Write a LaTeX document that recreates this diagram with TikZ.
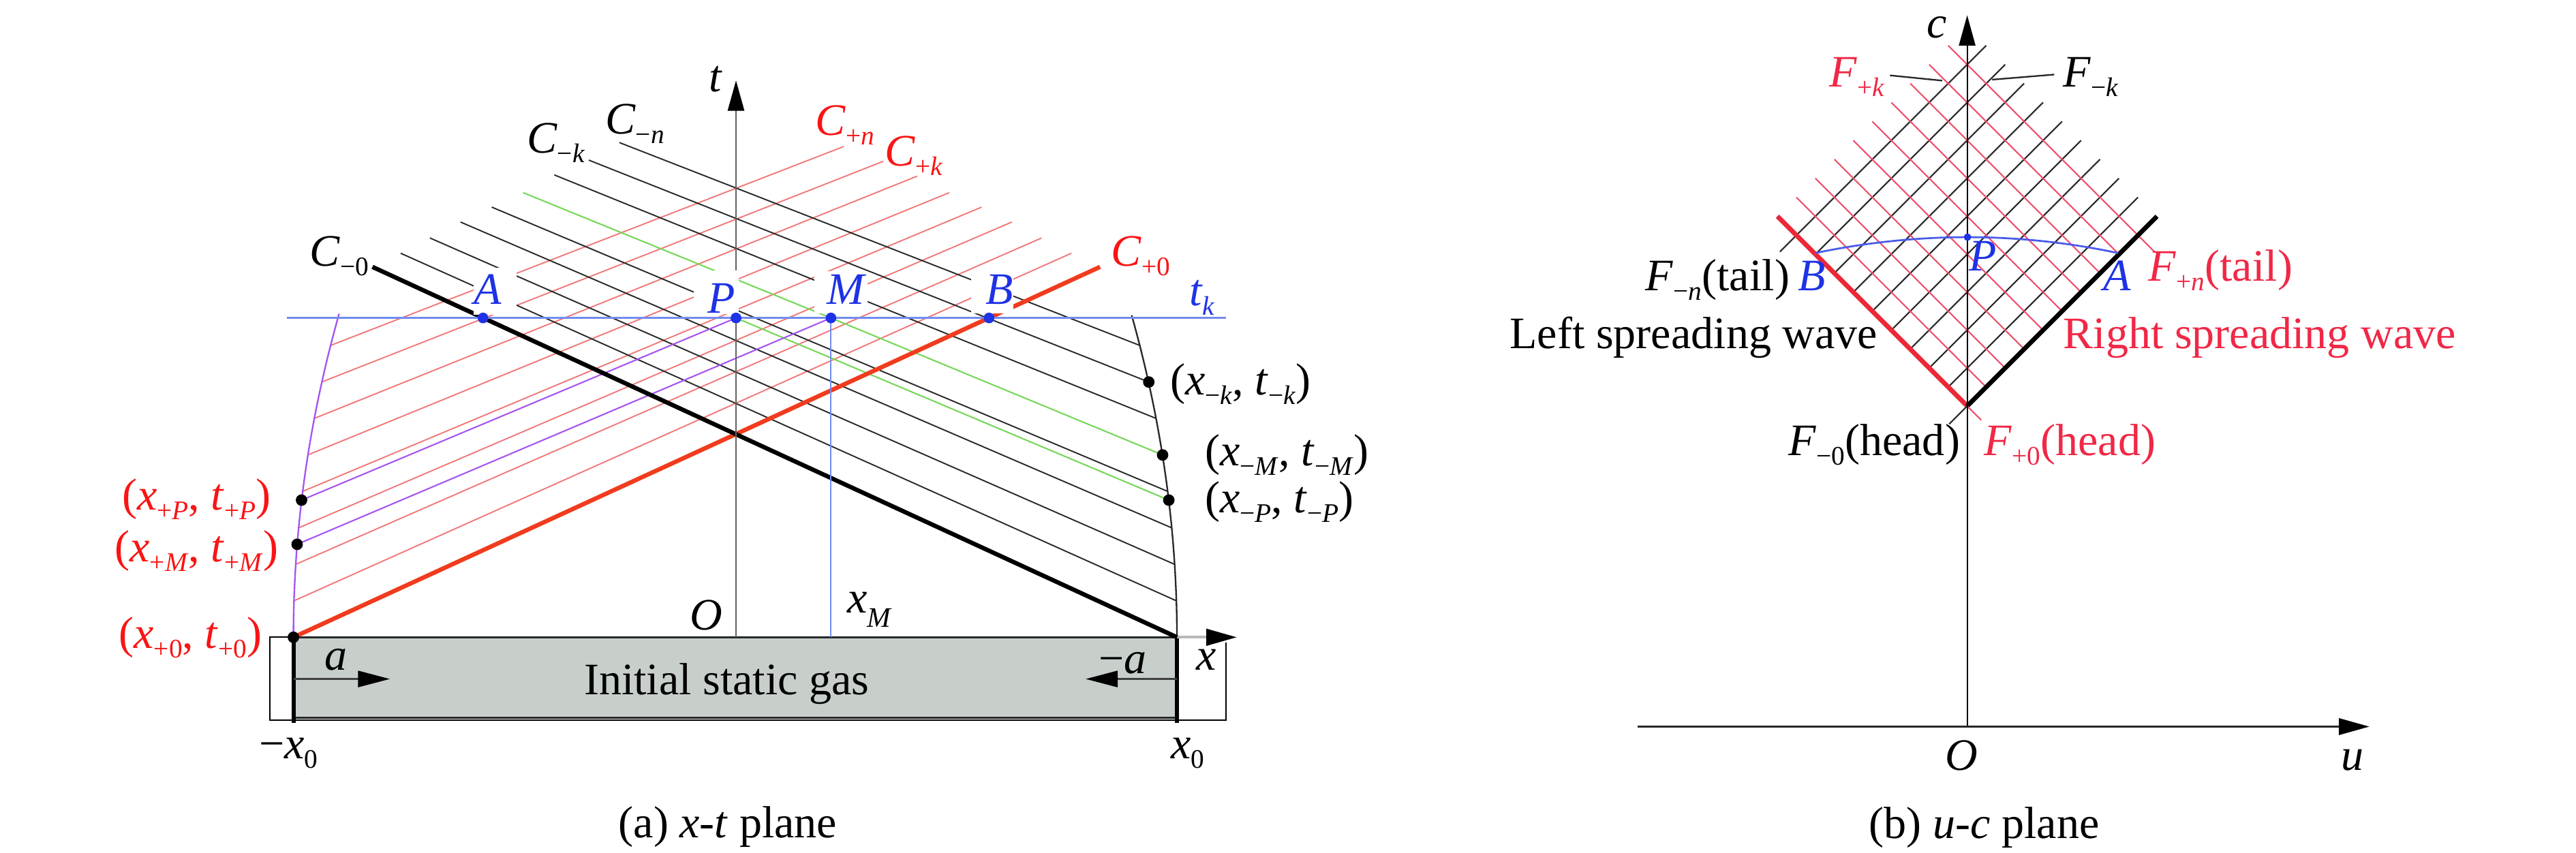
\documentclass[tikz,border=0pt]{standalone}
\usepackage{fontspec}
\setmainfont{Liberation Serif}
\usetikzlibrary{arrows.meta}
\definecolor{lred}{RGB}{242,120,120}
\definecolor{cred}{RGB}{240,60,30}
\definecolor{tred}{RGB}{250,20,20}
\definecolor{gblue}{RGB}{30,50,230}
\definecolor{lblue}{RGB}{115,140,240}
\definecolor{purp}{RGB}{165,85,240}
\definecolor{lgreen}{RGB}{120,215,90}
\definecolor{gasgray}{RGB}{200,207,203}
\definecolor{pred}{RGB}{240,80,110}
\definecolor{rred}{RGB}{235,40,55}
\definecolor{rtxt}{RGB}{240,40,70}
\definecolor{dgray}{RGB}{40,40,40}
\definecolor{axgray}{RGB}{100,100,100}
\newcommand\mysub[1]{\raisebox{-3.3pt}{\fontsize{9.3}{10}\selectfont #1}}
\newcommand\mysublow[1]{\raisebox{-5pt}{\fontsize{9.8}{10}\selectfont #1}}
\tikzset{
  thinred/.style={draw=lred, line width=0.45pt},
  thinblack/.style={draw=dgray, line width=0.45pt},
  greenl/.style={draw=lgreen, line width=0.5pt},
  purpl/.style={draw=purp, line width=0.5pt},
  cplus/.style={draw=cred, line width=1.5pt},
  cminus/.style={draw=black, line width=1.5pt},
  tkl/.style={draw=lblue, line width=0.65pt},
  axtip/.style={-{Triangle[length=0.37cm,width=0.2cm,color=black]}},
  dotb/.style={circle, fill=black, minimum size=0.14cm, inner sep=0pt},
  dotu/.style={circle, fill=gblue, minimum size=0.13cm, inner sep=0pt},
  gridred/.style={draw=pred, line width=0.5pt},
  gridblack/.style={draw=dgray, line width=0.5pt},
  lbl/.style={anchor=base},
  lblw/.style={anchor=base west},
  lble/.style={anchor=base east},
}
\begin{document}
\begin{tikzpicture}[x=0.02cm,y=-0.02cm,
  every node/.style={font=\fontsize{15.6}{18}\selectfont, inner sep=0pt, outer sep=0pt}]
\useasboundingbox (0,0) rectangle (1568,519);

% ================= (a) x-t plane =================
\coordinate (O) at (448,388);
\coordinate (ttip) at (448,49);
\coordinate (P) at (448,193.6);
\coordinate (M) at (505.8,193.6);
\coordinate (A) at (294,193.6);
\coordinate (B) at (602,193.6);
\coordinate (Mfoot) at (505.8,388);
\coordinate (tkL) at (174.8,193.6);
\coordinate (tkR) at (746.3,193.6);

% gas box and frame
\filldraw[fill=gasgray, draw=dgray, line width=0.6pt] (178.6,388) rectangle (716.4,437);
\draw[line width=0.5pt] (178.6,388) -- (164.3,388) -- (164.3,438.3) -- (746.3,438.3) -- (746.3,391);
\draw[line width=1.4pt] (178.6,388) -- (178.6,440);
\draw[line width=1.4pt] (716.4,388) -- (716.4,440);
\coordinate (xaS) at (716.4,388);
\coordinate (xaE) at (752.8,388);
\draw[line width=1pt, draw=gray!55, axtip] (xaS) -- (xaE);

% C+ family (red thin)
\foreach \sx/\sy/\ex/\ey in {178.95/365.8/652.1/154.2, 180.0/343.6/634.0/144.9,
  181.75/321.4/615.9/135.2, 184.2/299.2/597.5/126.1, 187.35/277/577.8/117.3,
  191.2/254.8/558.4/107.2, 195.75/232.6/537.7/98.2, 201.0/210.4/513.6/89.2}
  \draw[thinred] (\sx,\sy) -- (\ex,\ey);
% C- family (black thin)
\foreach \sx/\sy/\ex/\ey in {716.05/365.8/243.9/154.2, 715.0/343.6/261.7/144.9,
  713.25/321.4/280.3/135.2, 710.8/299.2/299.3/126.1,
  703.8/254.8/337.4/106.5, 699.25/232.6/358.4/97.5, 694.0/210.4/377.0/86.8}
  \draw[thinblack] (\sx,\sy) -- (\ex,\ey);

% end points on the boundaries
\coordinate (xp0) at (178.6,388);
\coordinate (xpP) at (183.55,304.5);
\coordinate (xpM) at (180.87,331.4);
\coordinate (xmk) at (699.25,232.6);
\coordinate (xmM) at (707.65,277);
\coordinate (xmP) at (711.45,304.5);
\coordinate (gTop) at (318.4,117.3);

% green and purple characteristics
\draw[greenl] (xmM) -- (M) -- (gTop);
\draw[greenl] (P) -- (xmP);
\draw[purpl] (xpP) -- (P);
\draw[purpl] (xpM) -- (M);

% boundary curves
\draw[purpl, line width=0.55pt] plot[domain=0:197, samples=40] ({178.6+0.00071*\x*\x},{388-\x});
\draw[thinblack, line width=0.55pt] plot[domain=0:196, samples=40] ({716.4-0.00071*\x*\x},{388-\x});

% head characteristics
\coordinate (Cp0end) at (669.6,162.5);
\coordinate (Cm0end) at (226.7,162.5);
\draw[cplus] (xp0) -- (Cp0end);
\draw[cminus] (xaS) -- (Cm0end);

% t axis, t_k line, x_M line
\draw[line width=0.6pt, draw=axgray, axtip] (O) -- (ttip);
\draw[tkl] (tkL) -- (tkR);
\draw[draw=lblue, line width=0.5pt] (M) -- (Mfoot);

% white label backgrounds
\fill[white] (288.3,163.2) rectangle (314.6,191.8);
\fill[white] (422.4,164.6) rectangle (449.8,191.3);
\fill[white] (495.7,165) rectangle (528,191);
\fill[white] (591.1,166) rectangle (617,190.8);

% wave arrows in gas
\coordinate (aS) at (178.6,413.4);
\coordinate (aE) at (237.4,413.4);
\coordinate (maS) at (716.4,413.4);
\coordinate (maE) at (660.8,413.4);
\draw[line width=0.9pt, draw=black!75, -{Triangle[length=0.39cm,width=0.195cm,color=black]}] (aS) -- (aE);
\draw[line width=0.9pt, draw=black!75, -{Triangle[length=0.39cm,width=0.195cm,color=black]}] (maS) -- (maE);

% dots
\node[dotb] (dxp0) at (xp0) {};
\node[dotb] (dxpP) at (xpP) {};
\node[dotb] (dxpM) at (xpM) {};
\node[dotb] (dxmk) at (xmk) {};
\node[dotb] (dxmM) at (xmM) {};
\node[dotb] (dxmP) at (xmP) {};
\node[dotu] (dA) at (A) {};
\node[dotu] (dP) at (P) {};
\node[dotu] (dM) at (M) {};
\node[dotu] (dB) at (B) {};

% labels (a)
\node[lbl] (tlab) at (435.5,56) {\textit{t}};
\node[lbl] (xlab) at (734.3,408) {\textit{x}};
\node[lbl] (Olab) at (429.8,383.4) {\textit{O}};
\node[lblw] (xMlab) at (515.8,373.1) {\textit{x}\mysublow{\textit{M}}};
\node[lblw] (Cm0) at (188.6,161.8) {\textit{C}\mysub{−0}};
\node[lblw] (Cmk) at (320.7,93.3) {\textit{C}\mysub{−\textit{k}}};
\node[lblw] (Cmn) at (368.4,81.6) {\textit{C}\mysub{−\textit{n}}};
\node[lblw, text=tred] (Cpn) at (496.5,82.3) {\textit{C}\mysub{+\textit{n}}};
\node[lblw, text=tred] (Cpk) at (538.8,100.9) {\textit{C}\mysub{+\textit{k}}};
\node[lblw, text=tred] (Cp0) at (676.4,161.8) {\textit{C}\mysub{+0}};
\node[lblw, text=gblue] (tklab) at (723.9,186) {\textit{t}\mysub{\textit{k}}};
\node[lbl, text=gblue] (Alab) at (297,185.3) {\textit{A}};
\node[lbl, text=gblue] (Plab) at (439,190.8) {\textit{P}};
\node[lbl, text=gblue] (Mlab) at (515.4,185.3) {\textit{M}};
\node[lbl, text=gblue] (Blab) at (608.4,185.3) {\textit{B}};
\node[lblw] (xmklab) at (712.3,240.5) {(\textit{x}\mysub{−\textit{k}}, \textit{t}\mysub{−\textit{k}})};
\node[lblw] (xmMlab) at (733.5,283.4) {(\textit{x}\mysub{−\textit{M}}, \textit{t}\mysub{−\textit{M}})};
\node[lblw] (xmPlab) at (733.5,312) {(\textit{x}\mysub{−\textit{P}}, \textit{t}\mysub{−\textit{P}})};
\node[lble, text=tred] (xpPlab) at (165,310.4) {(\textit{x}\mysub{+\textit{P}}, \textit{t}\mysub{+\textit{P}})};
\node[lble, text=tred] (xpMlab) at (169.4,342.2) {(\textit{x}\mysub{+\textit{M}}, \textit{t}\mysub{+\textit{M}})};
\node[lble, text=tred] (xp0lab) at (159.5,394.8) {(\textit{x}\mysub{+0}, \textit{t}\mysub{+0})};
\node[lbl] (mx0) at (175.6,462) {−\textit{x}\mysub{0}};
\node[lbl] (px0) at (723,462) {\textit{x}\mysub{0}};
\node[lbl] (gas) at (442.3,423.1) {Initial static gas};
\node[lbl] (alab) at (204.5,408) {\textit{a}};
\node[lbl] (malab) at (683.3,410) {−\textit{a}};
\node[lbl] (capa) at (443,510) {(a) \textit{x}-\textit{t} plane};

% ================= (b) u-c plane =================
\coordinate (V) at (1197.4,247.2);
\coordinate (cS) at (1197.4,442.4);
\coordinate (cE) at (1197.4,9.3);
\coordinate (uS) at (996.7,442.4);
\coordinate (uE) at (1442.2,442.4);
\coordinate (rB) at (1105,154.1);
\coordinate (rP) at (1197.6,144.4);
\coordinate (rA) at (1289.3,154.1);

\foreach \j in {1,...,8}
  \draw[gridblack] ({1197.4-11.55*\j},{247.2-11.55*\j}) -- ++(115.5,-115.5);
\draw[gridblack] ({1197.4-11.55*9-10},{247.2-11.55*9+10}) -- ++(125.5,-125.5);
\foreach \i in {1,...,8}
  \draw[gridred] ({1197.4+11.55*\i},{247.2-11.55*\i}) -- ++(-115.5,-115.5);
\draw[gridred] ({1197.4+11.55*9+10},{247.2-11.55*9+10}) -- ++(-125.5,-125.5);

\draw[draw=rred, line width=1.6pt] (V) -- ++(-115.5,-115.5);
\draw[draw=black, line width=1.6pt] (V) -- ++(115.5,-115.5);
\draw[gridred] (V) -- ++(8.5,8.5);
\draw[gridblack] (V) -- ++(-11,11);

\draw[line width=0.5pt, axtip] (cS) -- (cE);
\draw[line width=0.7pt, draw=dgray, axtip] (uS) -- (uE);

\draw[draw=gblue!80, line width=0.65pt] (rB) parabola bend (rP) (rA);
\node[dotu, minimum size=0.09cm] (drP) at (rP) {};

\coordinate (lkS) at (1150.4,45.9);
\coordinate (lkE) at (1182.2,49.1);
\coordinate (rkS) at (1250.4,45.4);
\coordinate (rkE) at (1212.6,48.5);
\draw[draw=dgray, line width=0.55pt] (lkS) -- (lkE);
\draw[draw=dgray, line width=0.55pt] (rkS) -- (rkE);

\node[lbl] (clab) at (1179.1,23.1) {\textit{c}};
\node[lblw, text=rtxt] (Fpk) at (1113.6,52.8) {\textit{F}\mysub{+\textit{k}}};
\node[lblw] (Fmk) at (1255.9,52.8) {\textit{F}\mysub{−\textit{k}}};
\node[lbl, text=gblue] (rPlab) at (1206.9,164.8) {\textit{P}};
\node[lbl, text=gblue] (rBlab) at (1103,176.9) {\textit{B}};
\node[lbl, text=gblue] (rAlab) at (1288.8,176.9) {\textit{A}};
\node[lble] (Fmn) at (1089.3,176.9) {\textit{F}\mysub{−\textit{n}}(tail)};
\node[lblw, text=rtxt] (Fpn) at (1307.8,171.3) {\textit{F}\mysub{+\textit{n}}(tail)};
\node[lble] (lsw) at (1142.8,212) {Left spreading wave};
\node[lblw, text=rtxt] (rsw) at (1255.9,212) {Right spreading wave};
\node[lble] (Fm0) at (1193,277.5) {\textit{F}\mysub{−0}(head)};
\node[lblw, text=rtxt] (Fp0) at (1207.8,277.5) {\textit{F}\mysub{+0}(head)};
\node[lbl] (rOlab) at (1194.1,469) {\textit{O}};
\node[lbl] (ulab) at (1431.9,469) {\textit{u}};
\node[lbl] (capb) at (1207.8,510.3) {(b) \textit{u}-\textit{c} plane};
\end{tikzpicture}
\end{document}
